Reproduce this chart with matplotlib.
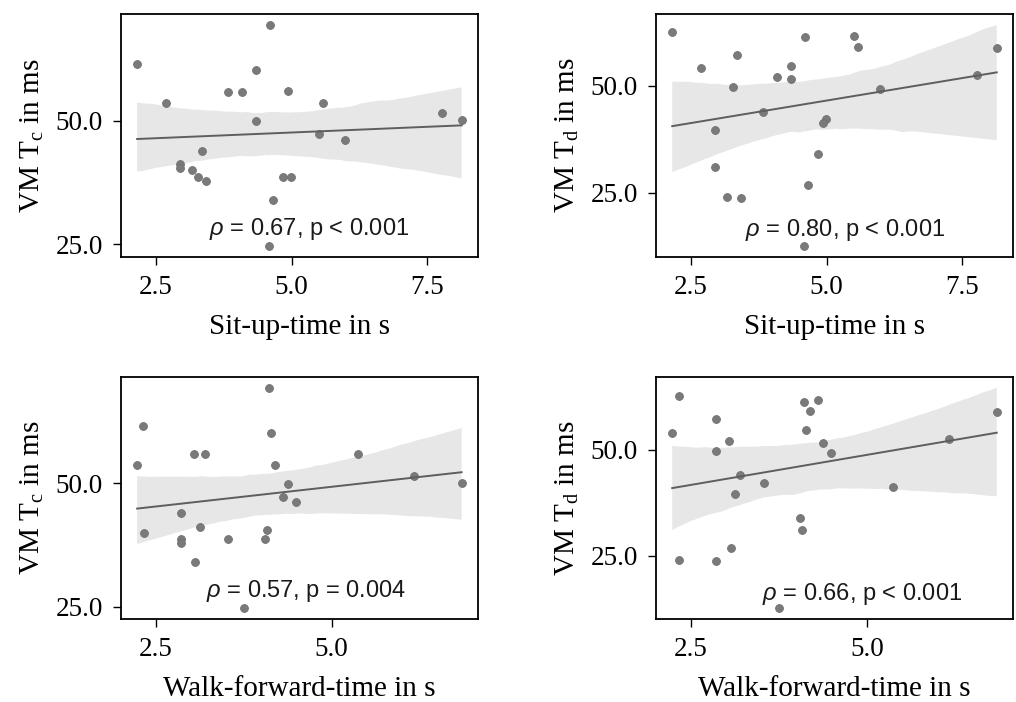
import numpy as np
import matplotlib
matplotlib.use("Agg")
import matplotlib.pyplot as plt
import seaborn as sns
from matplotlib.ticker import MultipleLocator, FormatStrFormatter

# one entry per subject
sit_up_time = [2.15, 2.68, 2.94, 2.94, 3.16, 3.28, 3.42, 3.35, 3.83, 4.09, 4.35, 4.35,
               4.61, 4.58, 4.65, 4.84, 4.99, 4.94, 5.50, 5.58, 5.98, 7.78, 8.14]
walk_time = [2.32, 2.23, 3.12, 4.08, 2.33, 2.85, 2.85, 2.85, 3.19, 3.04, 4.14, 4.38,
             4.11, 3.75, 3.06, 4.05, 3.53, 5.38, 4.30, 4.19, 4.49, 6.17, 6.85]
vm_tc = [61.5, 53.6, 41.2, 40.5, 39.9, 38.6, 37.8, 43.9, 55.8, 55.8, 60.2, 49.9,
         69.3, 24.7, 34.0, 38.6, 38.6, 55.9, 47.2, 53.6, 46.1, 51.5, 50.1]
vm_td = [62.7, 54.1, 39.7, 31.0, 23.9, 49.7, 23.7, 57.2, 44.0, 52.1, 54.8, 51.6,
         61.4, 12.6, 26.7, 34.0, 42.2, 41.3, 61.8, 59.2, 49.3, 52.6, 58.9]

rho_labels = [r"$\rho$ = 0.67, p < 0.001", r"$\rho$ = 0.80, p < 0.001",
              r"$\rho$ = 0.57, p = 0.004", r"$\rho$ = 0.66, p < 0.001"]
x_labels = ["Sit-up-time in s", "Sit-up-time in s",
            "Walk-forward-time in s", "Walk-forward-time in s"]
y_labels = [r"VM T$_\mathrm{c}$ in ms", r"VM T$_\mathrm{d}$ in ms",
            r"VM T$_\mathrm{c}$ in ms", r"VM T$_\mathrm{d}$ in ms"]

# where the annotation starts, in axes fraction
TEXT_POS = [(0.247, 0.090), (0.249, 0.086), (0.237, 0.090), (0.296, 0.080)]

POINT_COLOR = '#7a7a7a'
LINE_COLOR = '#5e5e5e'

plt.rcParams['font.family'] = ['Liberation Serif', 'DejaVu Serif']
plt.rcParams['mathtext.fontset'] = 'custom'
plt.rcParams['mathtext.rm'] = 'Liberation Serif'
plt.rcParams['mathtext.it'] = 'Liberation Sans:italic'

fig, axes = plt.subplots(2, 2, figsize=(10.16, 7.02), dpi=100)
fig.subplots_adjust(left=0.119, right=0.997, top=0.980, bottom=0.118,
                    wspace=0.499, hspace=0.494)

panels = [(sit_up_time, vm_tc), (sit_up_time, vm_td),
          (walk_time, vm_tc), (walk_time, vm_td)]

for i, ax in enumerate(axes.flat):
    xs, ys = panels[i]
    # regression line + bootstrapped 95% band, as seaborn draws it
    sns.regplot(x=np.array(xs), y=np.array(ys), ax=ax, ci=95, n_boot=1000, seed=0,
                color=LINE_COLOR,
                scatter_kws=dict(s=32, color=POINT_COLOR, alpha=1.0,
                                 edgecolors='#707070', linewidths=0.6, zorder=2),
                line_kws=dict(linewidth=1.4, color=LINE_COLOR))

    ax.xaxis.set_major_locator(MultipleLocator(2.5))
    ax.yaxis.set_major_locator(MultipleLocator(25))
    ax.xaxis.set_major_formatter(FormatStrFormatter('%.1f'))
    ax.yaxis.set_major_formatter(FormatStrFormatter('%.1f'))
    ax.tick_params(axis='both', which='major', direction='out', length=6,
                   width=1.0, labelsize=19.5, pad=7, colors='black')
    for sp in ax.spines.values():
        sp.set_linewidth(1.3)
        sp.set_color('black')

    ax.set_xlabel(x_labels[i], fontsize=21, labelpad=10)
    ax.set_ylabel(y_labels[i], fontsize=21, labelpad=7)

    tx, ty = TEXT_POS[i]
    ax.text(tx, ty, rho_labels[i], transform=ax.transAxes, ha='left', va='baseline',
            fontsize=17, family=['Liberation Sans', 'DejaVu Sans'], color='#1a1a1a')

fig.savefig('out.png', dpi=100)
